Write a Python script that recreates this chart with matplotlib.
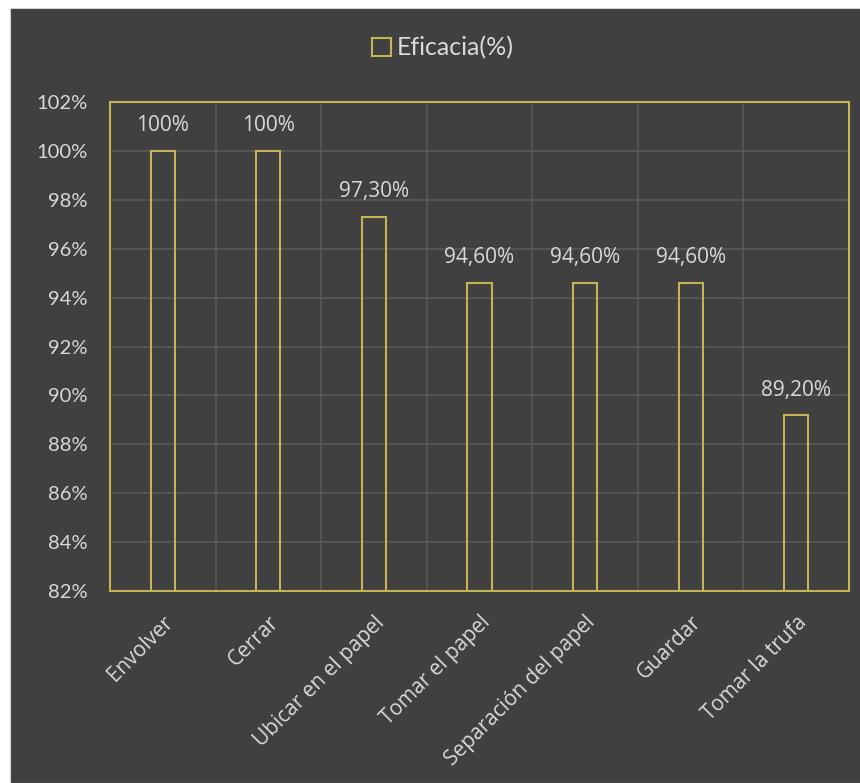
import matplotlib.pyplot as plt
import matplotlib.transforms as mtransforms
from matplotlib.patches import Rectangle
from matplotlib.ticker import FuncFormatter, MultipleLocator

categorias = ["Envolver", "Cerrar", "Ubicar en el papel", "Tomar el papel",
              "Separación del papel", "Guardar", "Tomar la trufa"]
eficacia = [100.0, 100.0, 97.3, 94.6, 94.6, 94.6, 89.2]
etiquetas = ["100%", "100%", "97,30%", "94,60%", "94,60%", "94,60%", "89,20%"]

fondo = "#404040"
amarillo = "#C4B454"
texto = "#D9D9D9"
rejilla = "#595959"

plt.rcParams["font.family"] = ["Open Sans", "DejaVu Sans"]

fig = plt.figure(figsize=(8.6, 7.83), dpi=100)
fig.patch.set_facecolor("white")
fig.patches.append(Rectangle((10 / 860, 0), 1, 1 - 8 / 783, transform=fig.transFigure,
                             facecolor=fondo, edgecolor="#D0D0D0", lw=0.8, zorder=-1))

ax = fig.add_axes([110 / 860, 1 - 591 / 783, 739 / 860, 489 / 783])
ax.set_facecolor(fondo)

x = range(len(categorias))
base = 82
bars = ax.bar(x, [v - base for v in eficacia], bottom=base, width=0.23,
              facecolor="none", edgecolor=amarillo, linewidth=1.5, zorder=3,
              label="Eficacia(%)")

# etiquetas de datos sobre cada barra
for xi, v, t in zip(x, eficacia, etiquetas):
    ax.annotate(t, (xi, v), xytext=(0, 14), textcoords="offset points",
                ha="center", va="baseline", color=texto, fontsize=15)

ax.set_xlim(-0.5, len(categorias) - 0.5)
ax.set_ylim(82, 102)
ax.yaxis.set_major_locator(MultipleLocator(2))
ax.yaxis.set_major_formatter(FuncFormatter(lambda v, p: f"{v:.0f}%"))
ax.set_xticks(list(x))
ax.set_xticklabels(categorias, rotation=45, ha="right", rotation_mode="anchor",
                   fontsize=15)
ax.set_xticks([i + 0.5 for i in range(len(categorias) - 1)], minor=True)
# desplaza un poco las etiquetas inclinadas hacia la izquierda
shift = mtransforms.ScaledTranslation(-6 / 72, 0, fig.dpi_scale_trans)
for lbl in ax.get_xticklabels():
    lbl.set_transform(lbl.get_transform() + shift)
for lbl in ax.get_yticklabels():
    lbl.set_family(["Lato", "DejaVu Sans"])

ax.tick_params(axis="both", which="both", length=0, colors=texto)
ax.tick_params(axis="y", labelsize=14.5, pad=16)
ax.tick_params(axis="x", pad=15)
ax.grid(axis="y", color=rejilla, lw=1.2, zorder=0)
ax.grid(axis="x", which="minor", color=rejilla, lw=1.2, zorder=0)
for s in ax.spines.values():
    s.set_color(amarillo)
    s.set_linewidth(1.5)

leg = fig.legend(handles=[bars], loc="center", bbox_to_anchor=(443 / 860, 1 - 48 / 783),
                 frameon=False, prop={"family": ["Lato", "DejaVu Sans"], "size": 18},
                 labelcolor=texto, handlelength=0.75, handleheight=0.75,
                 handletextpad=0.25)

fig.savefig("out.png", dpi=100, facecolor=fig.get_facecolor())
